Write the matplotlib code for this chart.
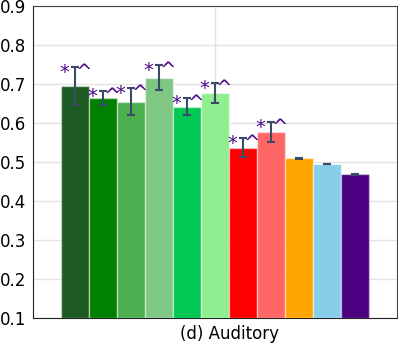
import matplotlib
matplotlib.use("Agg")
import numpy as np
import matplotlib.pyplot as plt

# values
means = [0.695, 0.665, 0.655, 0.716, 0.642, 0.677, 0.537, 0.577, 0.509, 0.495, 0.468]
errors = [0.048, 0.018, 0.035, 0.032, 0.022, 0.025, 0.025, 0.025, 0.001, 0.001, 0.001]
colors = ["#1e5b22", "#008000", "#4caf50", "#81c784", "#00c853", "#90ee90",
          "#ff0000", "#ff6666", "#ffa500", "#87ceeb", "#4b0082"]
marks = ["* ^"] * 8 + [""] * 3
group_label = "(d) Auditory"

fig = plt.figure(figsize=(3.98, 3.43), dpi=100)
ax = fig.add_axes([33 / 398, 25 / 343, 364 / 398, 312 / 343])

x = np.arange(len(means))
ax.bar(x, np.array(means) - 0.1, bottom=0.1, width=1.0, color=colors,
       edgecolor=(1, 1, 1, 0.45), linewidth=1, zorder=3)
ax.errorbar(x, means, yerr=errors, fmt="none", ecolor="#3b4a66",
            elinewidth=1.5, capsize=3, capthick=1.5, zorder=4)

for xi, m, e, t in zip(x, means, errors, marks):
    if t:
        ax.text(xi + 0.05, m + e - 0.014, t, ha="center", va="center",
                fontsize=14, color="#4b0a8c", zorder=5)

ax.set_xlim(-1.5, len(means) + 0.5)
ax.set_ylim(0.1, 0.9)
ax.set_yticks(np.arange(0.1, 0.91, 0.1))
ax.set_yticklabels([f"{v:.1f}" for v in np.arange(0.1, 0.91, 0.1)])
# the tick (and its grid line) sits at the group centre, label slightly right
ax.set_xticks([(len(means) - 1) / 2])
ax.set_xticklabels([""])
ax.text((len(means) - 1) / 2 + 0.5, -0.022, group_label, ha="center", va="top",
        fontsize=12, transform=ax.get_xaxis_transform())
ax.tick_params(length=0, labelsize=12, pad=5)
ax.grid(True, color="#e3e3e3", linewidth=1, zorder=0)
ax.set_axisbelow(True)
for s in ["left", "bottom"]:
    ax.spines[s].set_color("#222222")
for s in ["top", "right"]:
    ax.spines[s].set_color("#444444")

fig.savefig("out.png", dpi=100)
